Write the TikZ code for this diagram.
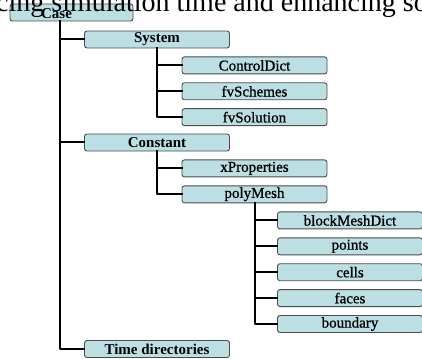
\documentclass[tikz,border=0pt]{standalone}
\usepackage{fontspec}
\setmainfont{Liberation Serif}
\newfontface\semifont[FakeBold=0.9]{Liberation Serif}
\definecolor{boxblue}{HTML}{BCDFE4}
\tikzset{
  folder/.style={draw=black!70, fill=boxblue, rounded corners=2.5pt, line width=0.9pt, minimum width=145pt, minimum height=17pt, inner sep=0pt, font=\semifont\fontsize{15}{15}\selectfont},
  topfolder/.style={folder, font=\fontsize{15}{15}\selectfont\bfseries},
  branch/.style={line width=2pt, line cap=rect}
}
\begin{document}
\begin{tikzpicture}[x=1pt, y=-1pt, line join=round]
  \def\dy{25.9}
  \useasboundingbox (0,0) rectangle (422,358);
  \clip (0,0) rectangle (422,358);
  % top level
  \node[folder, minimum width=123pt] (case) at (71.5,12.5) {};
  \node[font=\fontsize{28}{28}\selectfont, anchor=base west, inner sep=0pt] (caption) at (-4,11.5) {cing simulation time and enhancing so};
  \node[font=\fontsize{15}{15}\selectfont\bfseries, inner sep=0pt] (casetext) at (56.5,14) {Case};
  \coordinate (trunk) at (60,21.5);
  \node[topfolder] (system) at (157,39.5) {System};
  \node[folder] (controldict) at (254.5,39.5+\dy) {ControlDict};
  \node[folder] (fvschemes) at (254.5,39.5+2*\dy) {fvSchemes};
  \node[folder] (fvsolution) at (254.5,39.5+3*\dy) {fvSolution};
  \node[topfolder] (constant) at (157,142.5) {Constant};
  \node[folder] (xproperties) at (254.5,142.5+\dy) {xProperties};
  \node[folder] (polymesh) at (254.5,142.5+2*\dy) {polyMesh};
  \node[folder] (blockmeshdict) at (350,194.5+\dy) {blockMeshDict};
  \foreach \n/\t [count=\i from 2] in {points/points,cells/cells,faces/faces,boundary/boundary}
    \node[folder] (\n) at (350,194.5+\i*\dy) {\t};
  \node[topfolder] (timedirs) at (157,349) {Time directories};
  % connectors
  \foreach \c in {system,constant,timedirs}\draw[branch] (trunk) |- (\c.west);
  \foreach \c in {controldict,fvschemes,fvsolution}\draw[branch] (system.south) |- (\c.west);
  \foreach \c in {xproperties,polymesh}\draw[branch] (constant.south) |- (\c.west);
  \foreach \c in {blockmeshdict,points,cells,faces,boundary}\draw[branch] (polymesh.south) |- (\c.west);
\end{tikzpicture}
\end{document}
